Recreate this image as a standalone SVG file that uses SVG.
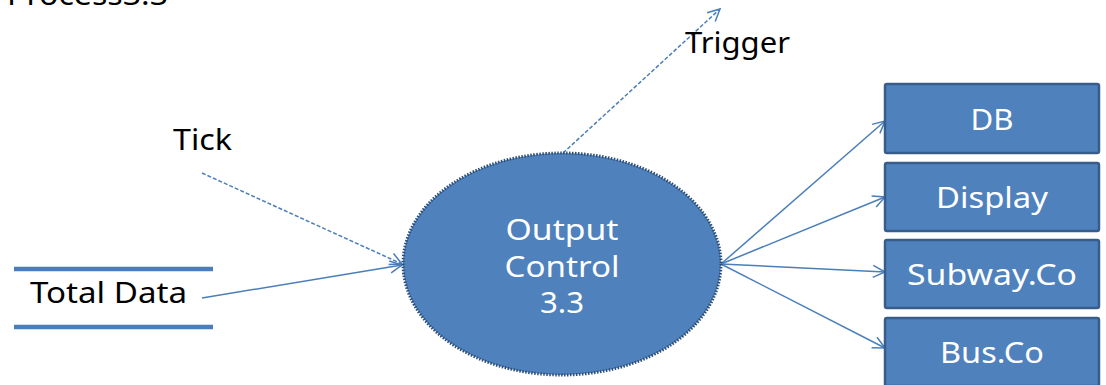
<svg xmlns="http://www.w3.org/2000/svg" width="1106" height="385" viewBox="0 0 1106 385">
<style>
text{font-family:"Noto Sans","Open Sans",sans-serif;}
.lbl{fill:#000;font-size:29px;}
.wt{fill:#fff;font-size:29px;text-anchor:middle;}
.box{fill:#4f81bd;stroke:#385d8a;stroke-width:2.5;}
.flow{stroke:#4a7ebb;stroke-width:1.5;fill:none;}
.dash{stroke-dasharray:4 2;}
.store{stroke:#4a7ebb;stroke-width:4.5;}
</style>
<defs>
<marker id="arr" markerWidth="16" markerHeight="16" refX="14" refY="8" orient="auto" markerUnits="userSpaceOnUse">
<path d="M2,2 L14,8 L2,14" fill="none" stroke="#4a7ebb" stroke-width="1.5"/>
</marker>
</defs>
<text class="lbl" x="7" y="5" font-size="30" textLength="161" lengthAdjust="spacingAndGlyphs">Process3.3</text>
<g id="connectors">
<line class="flow dash" x1="202" y1="173" x2="402" y2="264" marker-end="url(#arr)"/>
<line class="flow" x1="202" y1="298" x2="402" y2="265" marker-end="url(#arr)"/>
<line class="flow dash" x1="563" y1="153" x2="720" y2="9" marker-end="url(#arr)"/>
<line class="flow" x1="721" y1="264" x2="885" y2="121" marker-end="url(#arr)"/>
<line class="flow" x1="721" y1="264" x2="885" y2="197" marker-end="url(#arr)"/>
<line class="flow" x1="721" y1="264" x2="885" y2="272" marker-end="url(#arr)"/>
<line class="flow" x1="721" y1="264" x2="885" y2="348" marker-end="url(#arr)"/>
<text class="lbl" x="173" y="150" textLength="59" lengthAdjust="spacingAndGlyphs">Tick</text>
<text class="lbl" x="685" y="53" textLength="105" lengthAdjust="spacingAndGlyphs">Trigger</text>
</g>
<g id="total-data">
<line class="store" x1="14" y1="269" x2="213" y2="269"/>
<line class="store" x1="14" y1="327" x2="213" y2="327"/>
<text class="lbl" x="30" y="303" textLength="157" lengthAdjust="spacingAndGlyphs">Total Data</text>
</g>
<g id="output-control">
<ellipse cx="562" cy="264" rx="159" ry="111" fill="#4f81bd" stroke="#2c4d75" stroke-width="3" stroke-dasharray="1.5 1.5"/>
<text class="wt" x="562" y="240" font-size="30" textLength="113" lengthAdjust="spacingAndGlyphs">Output</text>
<text class="wt" x="562" y="277" font-size="30" textLength="115" lengthAdjust="spacingAndGlyphs">Control</text>
<text class="wt" x="562" y="313" font-size="30" textLength="44" lengthAdjust="spacingAndGlyphs">3.3</text>
</g>
<g id="db">
<rect class="box" x="885" y="84" width="214" height="69" rx="2"/>
<text class="wt" x="992" y="130" textLength="43" lengthAdjust="spacingAndGlyphs">DB</text>
</g>
<g id="display">
<rect class="box" x="885" y="163" width="214" height="68" rx="2"/>
<text class="wt" x="992" y="208" textLength="112" lengthAdjust="spacingAndGlyphs">Display</text>
</g>
<g id="subway">
<rect class="box" x="885" y="240" width="214" height="68" rx="2"/>
<text class="wt" x="992" y="285" textLength="170" lengthAdjust="spacingAndGlyphs">Subway.Co</text>
</g>
<g id="bus">
<rect class="box" x="885" y="318" width="214" height="68" rx="2"/>
<text class="wt" x="992" y="363" textLength="104" lengthAdjust="spacingAndGlyphs">Bus.Co</text>
</g>
</svg>
